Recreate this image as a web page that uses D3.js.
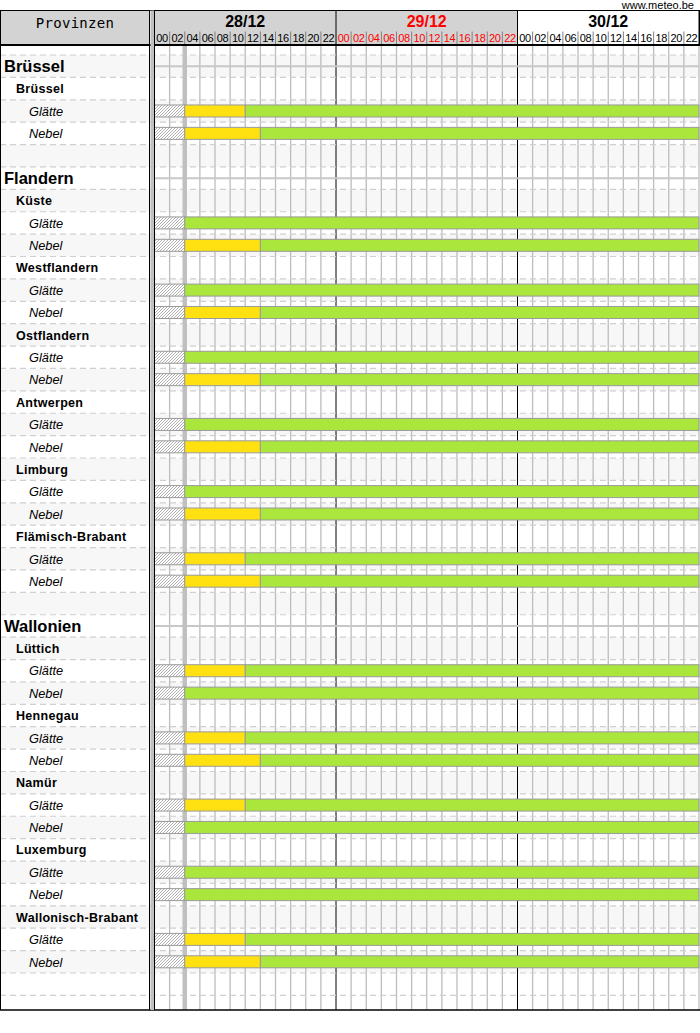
<!DOCTYPE html>
<html><head><meta charset="utf-8">
<script src="https://cdn.jsdelivr.net/npm/d3@7/dist/d3.min.js"></script>
<style>body{margin:0;background:#fff}svg{display:block;font-family:Arial,"Liberation Sans",sans-serif}</style>
</head><body><svg id="c" width="700" height="1033"></svg>
<script>
// ---- data ----
const days = ["28/12", "29/12", "30/12"];
const dayColors = ["#000", "#f00", "#000"];
const hourLabels = ["00","02","04","06","08","10","12","14","16","18","20","22"];
const regions = ["Brüssel", "Flandern", "Wallonien"];
const provinces = ["Brüssel","Küste","Westflandern","Ostflandern","Antwerpen","Limburg","Flämisch-Brabant","Lüttich","Hennegau","Namür","Luxemburg","Wallonisch-Brabant"];
const provinceRegion = [0,1,1,1,1,1,1,2,2,2,2,2];
const hazards = ["Glätte", "Nebel"];
// hour (from 28/12 00h) where the yellow warning ends; null = no yellow
const glatteYellowEnd = [12,null,null,null,null,null,12,12,12,12,null,12];
const nebelYellowEnd  = [14,14,14,14,14,14,14,null,14,null,null,14];
const forecastStart = 4;   // hours before this are hatched (past)
const totalHours = 72;

(function(){
// ---- build rows ----
const rows = [];
regions.forEach((r, ri) => {
  rows.push({label: r, type: "region"});
  provinces.forEach((p, pi) => {
    if (provinceRegion[pi] !== ri) return;
    rows.push({label: p, type: "province"});
    rows.push({label: hazards[0], type: "item", yEnd: glatteYellowEnd[pi]});
    rows.push({label: hazards[1], type: "item", yEnd: nebelYellowEnd[pi]});
  });
  rows.push({label: "", type: "blank"});
});
rows.forEach((r, i) => r.i = i);

const svg = d3.select("#c");
const rowH = 22.39, rowTop = 55;
const x = d3.scaleLinear().domain([0, totalHours]).range([154.5, 699]);
const y = d3.scaleLinear().domain([0, rows.length]).range([rowTop, rowTop + rows.length * rowH]);
const yTop = 10.5, yBot = 1010;

// hatch pattern
const defs = svg.append("defs");
const pat = defs.append("pattern").attr("id","hatch").attr("patternUnits","userSpaceOnUse")
  .attr("width",3).attr("height",3);
pat.append("rect").attr("width",3).attr("height",3).attr("fill","#fff");
pat.append("path").attr("d","M-1,1 l2,-2 M0,3 l3,-3 M2,4 l2,-2").attr("stroke","#9a9a9a").attr("stroke-width",0.8);

// row backgrounds
svg.append("g").selectAll("rect").data(rows).join("rect")
  .attr("x", 0).attr("width", 699).attr("y", d => y(d.i)).attr("height", rowH)
  .attr("fill", d => d.i % 2 === 0 ? "#f7f7f7" : "#fff");

// vertical gridlines
svg.append("g").selectAll("line").data(d3.range(1, totalHours/2 + 1)).join("line")
  .attr("x1", d => x(d*2)).attr("x2", d => x(d*2)).attr("y1", 45).attr("y2", yBot)
  .attr("stroke", d => (d*2) % 24 === 0 && d*2 < totalHours ? "#000" : "#bdbdbd")
  .attr("stroke-width", d => (d*2) % 24 === 0 && d*2 < totalHours ? 1 : 1.3);

// dashed row lines
svg.append("g").selectAll("line").data(d3.range(0, rows.length + 1)).join("line")
  .attr("x1", 0).attr("x2", 699).attr("y1", d => y(d)).attr("y2", d => y(d))
  .attr("stroke", "#d0d0d0").attr("stroke-width", 1.2).attr("stroke-dasharray", "6,4");

// region lines in chart
svg.append("g").selectAll("line").data(rows.filter(r => r.type === "region")).join("line")
  .attr("x1", x(0)).attr("x2", 699).attr("y1", r => y(r.i) + rowH/2).attr("y2", r => y(r.i) + rowH/2)
  .attr("stroke", "#c8c8c8").attr("stroke-width", 2);

// now line
svg.append("line").attr("x1", x(forecastStart)).attr("x2", x(forecastStart)).attr("y1", 45).attr("y2", yBot)
  .attr("stroke", "#c0c0c0").attr("stroke-width", 4.5);

// bars
const segs = [];
rows.forEach(r => {
  if (r.type !== "item") return;
  segs.push({i: r.i, a: 0, b: forecastStart, fill: "url(#hatch)"});
  let s = forecastStart;
  if (r.yEnd != null) { segs.push({i: r.i, a: forecastStart, b: r.yEnd, fill: "#ffe112"}); s = r.yEnd; }
  segs.push({i: r.i, a: s, b: totalHours, fill: "#aae63c"});
});
svg.append("g").selectAll("rect").data(segs).join("rect")
  .attr("x", d => x(d.a)).attr("width", d => x(d.b) - x(d.a))
  .attr("y", d => y(d.i) + rowH/2 - 6).attr("height", 12)
  .attr("fill", d => d.fill).attr("stroke", "#9a9a9a").attr("stroke-width", 1);

// row labels
svg.append("g").selectAll("text").data(rows.filter(r => r.type !== "blank")).join("text")
  .attr("x", r => r.type === "region" ? 4 : r.type === "province" ? 16 : 29)
  .attr("y", r => y(r.i) + rowH/2)
  .attr("dy", "0.37em")
  .attr("font-size", r => r.type === "region" ? 16.5 : r.type === "province" ? 12.5 : 12.8)
  .attr("font-weight", r => r.type === "item" ? "normal" : "bold")
  .attr("font-style", r => r.type === "item" ? "italic" : "normal")
  .attr("letter-spacing", r => r.type === "province" ? 0.3 : 0)
  .attr("fill", "#000")
  .text(r => r.label);

// ---- header ----
const hdr = svg.append("g");
hdr.append("rect").attr("x", 0.5).attr("y", yTop).attr("width", 149).attr("height", 34).attr("fill", "#d3d3d3");
hdr.append("text").attr("x", 75).attr("y", 28).attr("text-anchor", "middle")
  .attr("font-family", "'DejaVu Sans Mono', monospace").attr("font-size", 14).attr("letter-spacing", 0.3)
  .text("Provinzen");
const dg = hdr.selectAll("g.day").data(days).join("g").attr("class", "day");
dg.append("rect").attr("x", (d,i) => x(i*24)).attr("y", yTop).attr("width", (d,i) => x((i+1)*24) - x(i*24))
  .attr("height", 34).attr("fill", (d,i) => i < 2 ? "#d3d3d3" : "#fff");
dg.append("text").attr("x", (d,i) => (x(i*24) + x((i+1)*24))/2).attr("y", 27.3).attr("text-anchor", "middle")
  .attr("font-size", 16).attr("font-weight", "bold").attr("fill", (d,i) => dayColors[i]).text(d => d);
const hours = [];
days.forEach((d, di) => hourLabels.forEach((h, hi) => hours.push({h, di, t: di*24 + hi*2})));
hdr.selectAll("text.h").data(hours).join("text").attr("class", "h")
  .attr("x", d => x(d.t + 1)).attr("y", 41.7).attr("text-anchor", "middle")
  .attr("font-size", 11).attr("letter-spacing", -0.4).attr("fill", d => dayColors[d.di]).text(d => d.h);
hdr.selectAll("line.hs").data(hours.filter(d => d.t % 24 !== 0)).join("line").attr("class", "hs")
  .attr("x1", d => x(d.t)).attr("x2", d => x(d.t)).attr("y1", 31.5).attr("y2", 44)
  .attr("stroke", "#808080").attr("stroke-width", 1);
hdr.selectAll("line.db").data(d3.range(0, 4)).join("line").attr("class", "db")
  .attr("x1", d => x(d*24)).attr("x2", d => x(d*24)).attr("y1", yTop).attr("y2", 45)
  .attr("stroke", "#000").attr("stroke-width", 1);
// borders
svg.append("line").attr("x1", 0).attr("x2", 700).attr("y1", yTop).attr("y2", yTop).attr("stroke", "#000");
svg.append("line").attr("x1", 0).attr("x2", 700).attr("y1", 45).attr("y2", 45).attr("stroke", "#000").attr("stroke-width", 2);
svg.append("line").attr("x1", 0).attr("x2", 700).attr("y1", yBot).attr("y2", yBot).attr("stroke", "#000").attr("stroke-width", 1.5);
svg.append("line").attr("x1", 0.5).attr("x2", 0.5).attr("y1", yTop).attr("y2", yBot).attr("stroke", "#000");
svg.append("line").attr("x1", 149.5).attr("x2", 149.5).attr("y1", yTop).attr("y2", yBot).attr("stroke", "#000");
svg.append("rect").attr("x", 150.5).attr("y", yTop).attr("width", 3.5).attr("height", yBot - yTop).attr("fill", "#c0c0c0");
svg.append("line").attr("x1", x(0)).attr("x2", x(0)).attr("y1", yTop).attr("y2", yBot).attr("stroke", "#000");
svg.append("line").attr("x1", 699.5).attr("x2", 699.5).attr("y1", yTop).attr("y2", 45).attr("stroke", "#000");
svg.append("text").attr("x", 694).attr("y", 9).attr("text-anchor", "end").attr("font-size", 11).text("www.meteo.be");
})();
</script>
</body></html>
